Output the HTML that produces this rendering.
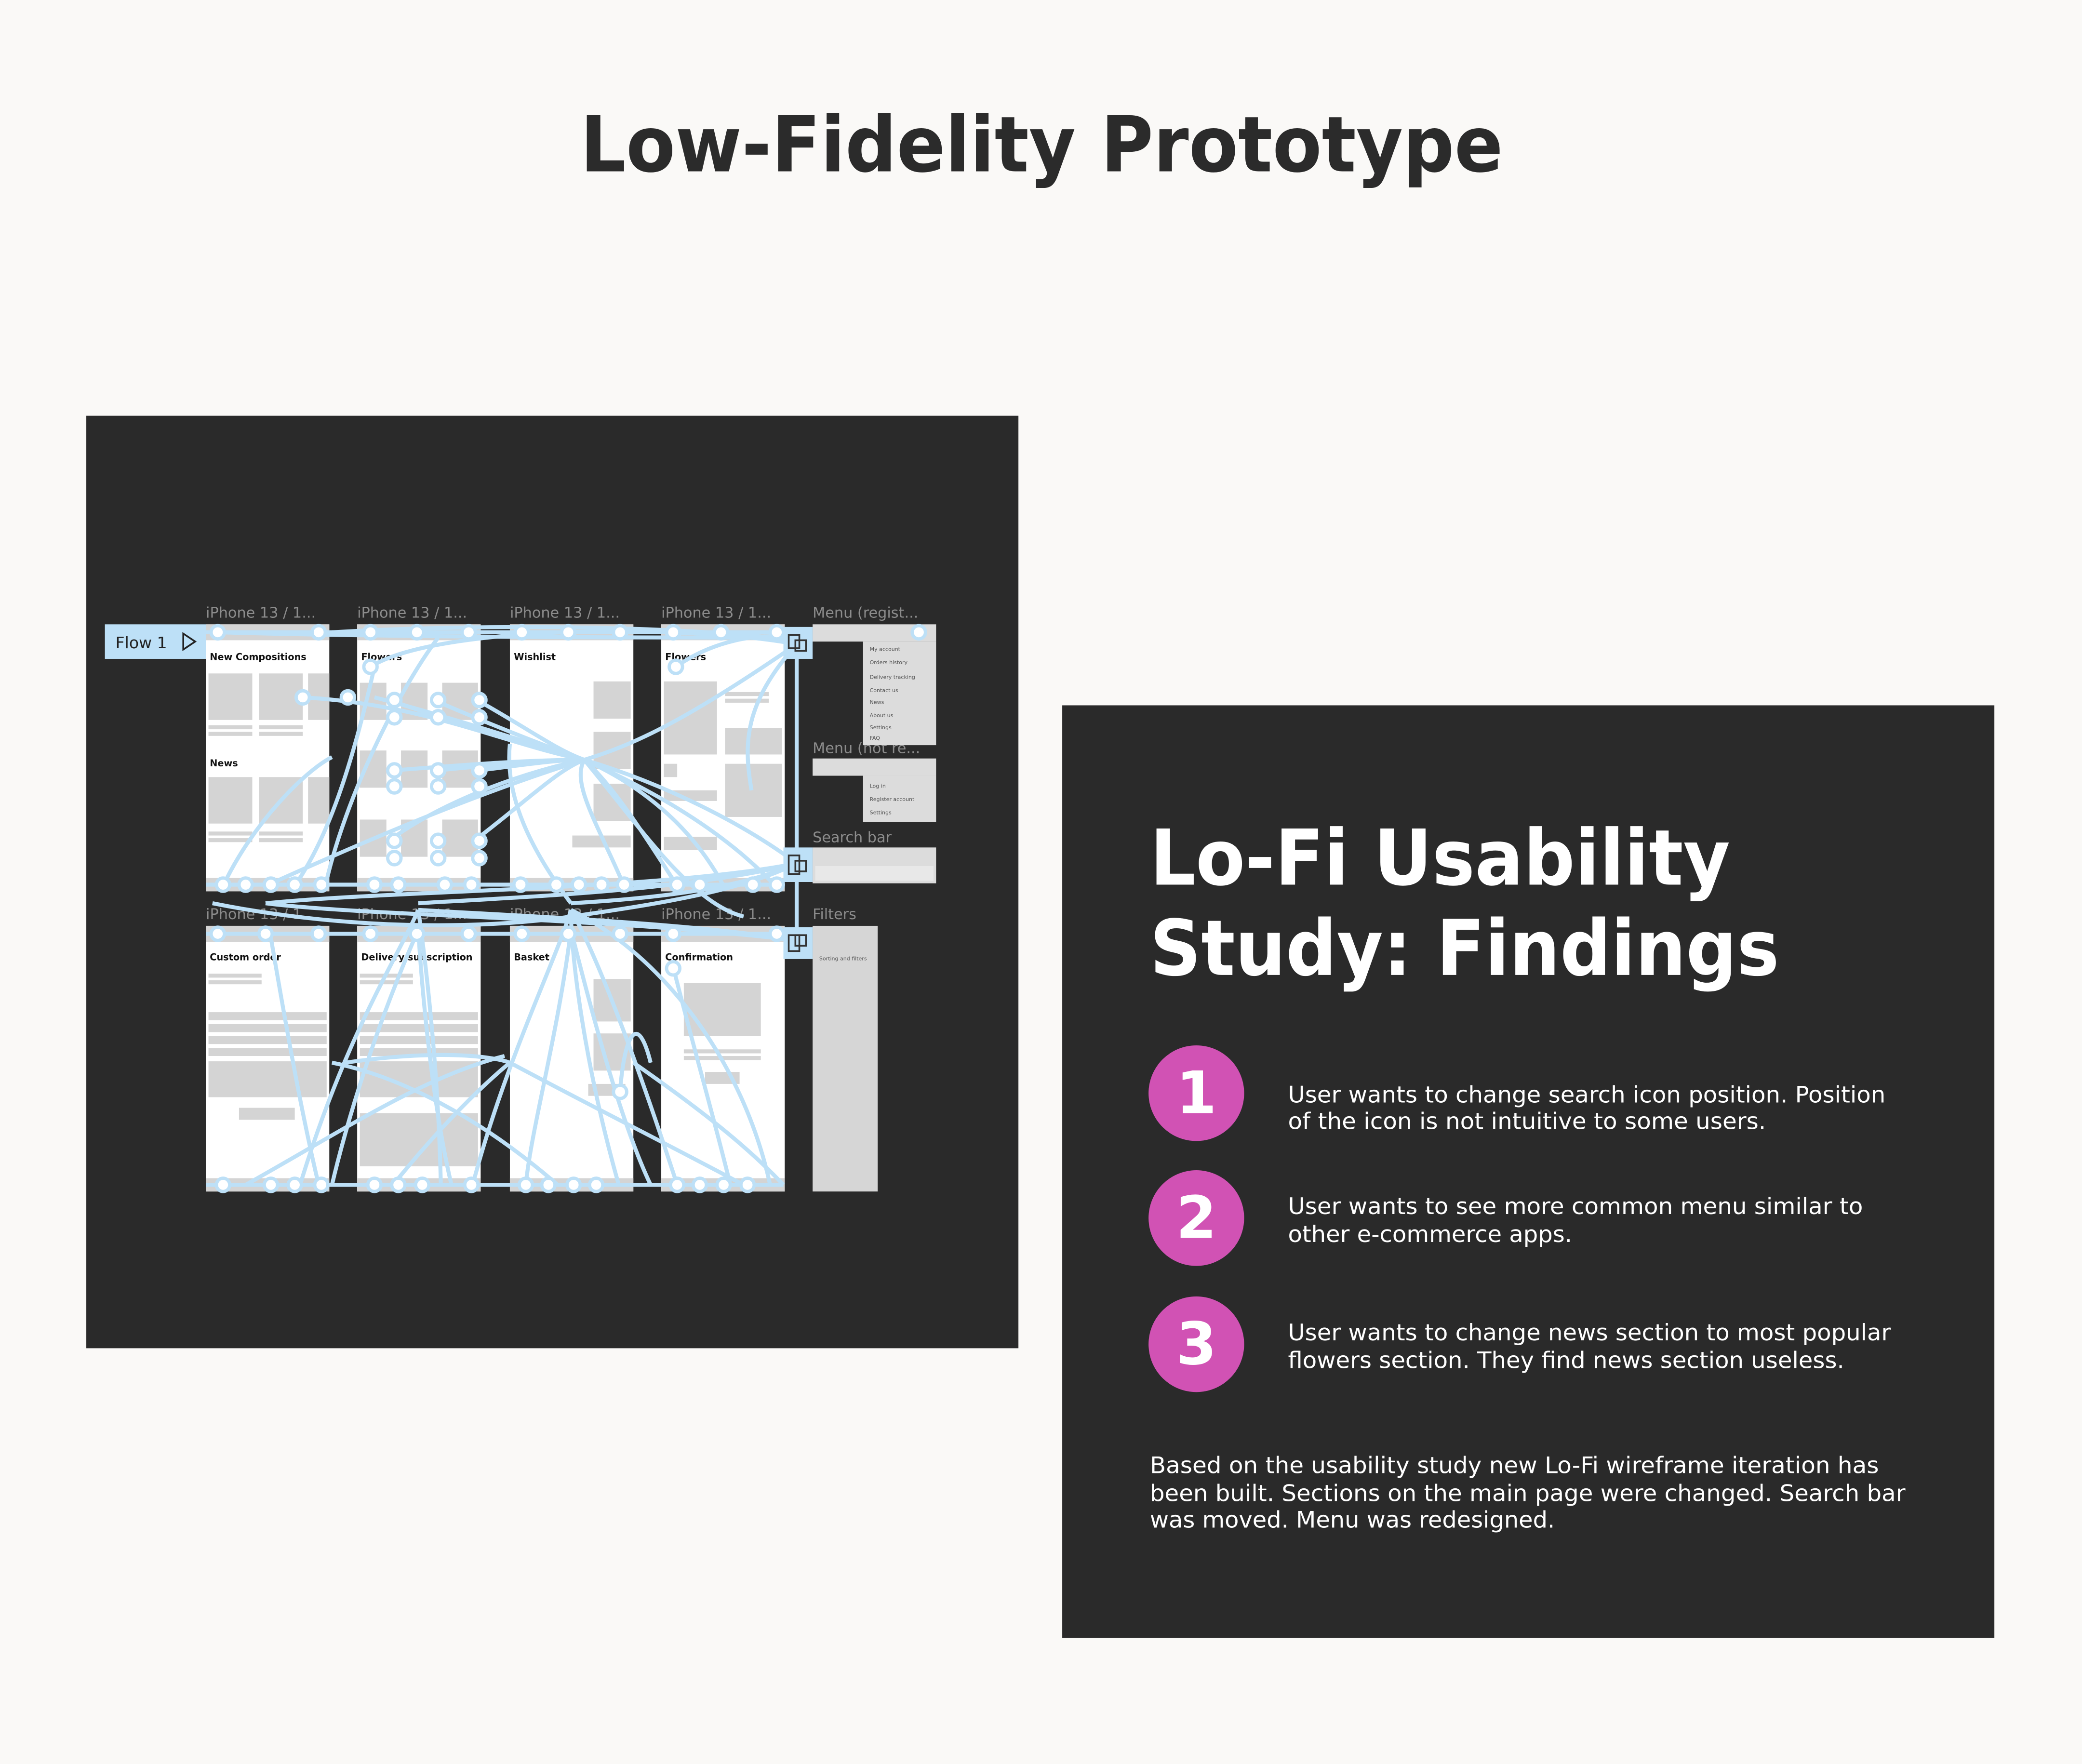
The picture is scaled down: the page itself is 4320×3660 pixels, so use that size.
<!DOCTYPE html>
<html><head><meta charset="utf-8"><style>html,body{margin:0;padding:0;background:#faf9f7}svg{display:block}</style></head>
<body>
<svg xmlns="http://www.w3.org/2000/svg" width="4320" height="3660" viewBox="0 0 1568 1328" preserveAspectRatio="none" font-family="'DejaVu Sans','Liberation Sans',sans-serif">
<rect width="1568" height="1328" fill="#faf9f7"/>
<text x="437" y="129" font-size="58" font-weight="bold" fill="#2b2b2b" textLength="695" lengthAdjust="spacingAndGlyphs">Low-Fidelity Prototype</text>

<rect x="65" y="313" width="702" height="702" fill="#2a2a2a"/>
<g font-size="11" fill="#8c8c8c">
<text x="155" y="465">iPhone 13 / 1...</text><text x="269" y="465">iPhone 13 / 1...</text><text x="384" y="465">iPhone 13 / 1...</text><text x="498" y="465">iPhone 13 / 1...</text>
<text x="612" y="465">Menu (regist...</text><text x="612" y="567">Menu (not re...</text><text x="612" y="634">Search bar</text><text x="612" y="692">Filters</text>
<text x="155" y="692">iPhone 13 / 1...</text><text x="269" y="692">iPhone 13 / 1...</text><text x="384" y="692">iPhone 13 / 1...</text><text x="498" y="692">iPhone 13 / 1...</text>
</g>
<g>
<g fill="#fff"><rect x="155" y="470" width="93" height="201"/><rect x="269" y="470" width="93" height="201"/><rect x="384" y="470" width="93" height="201"/><rect x="498" y="470" width="93" height="201"/>
<rect x="155" y="697" width="93" height="200"/><rect x="269" y="697" width="93" height="200"/><rect x="384" y="697" width="93" height="200"/><rect x="498" y="697" width="93" height="200"/></g>
<g fill="#d4d4d4"><rect x="155" y="470" width="93" height="12"/><rect x="269" y="470" width="93" height="12"/><rect x="384" y="470" width="93" height="12"/><rect x="498" y="470" width="93" height="12"/>
<rect x="155" y="661" width="93" height="10"/><rect x="269" y="661" width="93" height="10"/><rect x="384" y="661" width="93" height="10"/><rect x="498" y="661" width="93" height="10"/>
<rect x="155" y="697" width="93" height="12"/><rect x="269" y="697" width="93" height="12"/><rect x="384" y="697" width="93" height="12"/><rect x="498" y="697" width="93" height="12"/>
<rect x="155" y="887" width="93" height="10"/><rect x="269" y="887" width="93" height="10"/><rect x="384" y="887" width="93" height="10"/><rect x="498" y="887" width="93" height="10"/>
<rect x="157" y="507" width="33" height="35"/><rect x="195" y="507" width="33" height="35"/><rect x="232" y="507" width="16" height="35"/>
<rect x="157" y="546" width="33" height="3"/><rect x="195" y="546" width="33" height="3"/><rect x="157" y="551" width="33" height="3"/><rect x="195" y="551" width="33" height="3"/>
<rect x="157" y="585" width="33" height="35"/><rect x="195" y="585" width="33" height="35"/><rect x="232" y="585" width="16" height="35"/>
<rect x="157" y="626" width="33" height="3"/><rect x="195" y="626" width="33" height="3"/><rect x="157" y="631" width="33" height="3"/><rect x="195" y="631" width="33" height="3"/>
<rect x="271" y="514" width="20" height="28"/><rect x="302" y="514" width="20" height="28"/><rect x="333" y="514" width="27" height="28"/>
<rect x="271" y="565" width="20" height="28"/><rect x="302" y="565" width="20" height="28"/><rect x="333" y="565" width="27" height="28"/>
<rect x="271" y="617" width="20" height="28"/><rect x="302" y="617" width="20" height="28"/><rect x="333" y="617" width="27" height="28"/>
<rect x="447" y="513" width="28" height="28"/><rect x="447" y="551" width="28" height="28"/><rect x="447" y="590" width="28" height="28"/><rect x="431" y="629" width="44" height="9"/>
<rect x="500" y="513" width="40" height="55"/><rect x="546" y="521" width="33" height="3"/><rect x="546" y="526" width="33" height="3"/><rect x="546" y="548" width="43" height="20"/>
<rect x="500" y="575" width="10" height="10"/><rect x="546" y="575" width="43" height="40"/><rect x="500" y="595" width="40" height="8"/><rect x="500" y="630" width="40" height="10"/>
<rect x="157" y="733" width="40" height="3"/><rect x="157" y="738" width="40" height="3"/>
<rect x="157" y="762" width="89" height="6"/><rect x="157" y="771" width="89" height="6"/><rect x="157" y="780" width="89" height="6"/><rect x="157" y="789" width="89" height="6"/><rect x="157" y="799" width="89" height="27"/><rect x="180" y="834" width="42" height="9"/>
<rect x="271" y="733" width="40" height="3"/><rect x="271" y="738" width="40" height="3"/>
<rect x="271" y="762" width="89" height="6"/><rect x="271" y="771" width="89" height="6"/><rect x="271" y="780" width="89" height="6"/><rect x="271" y="789" width="89" height="6"/><rect x="271" y="799" width="89" height="27"/><rect x="271" y="838" width="89" height="40"/>
<rect x="447" y="737" width="28" height="32"/><rect x="447" y="778" width="28" height="28"/><rect x="443" y="816" width="28" height="9"/>
<rect x="515" y="740" width="58" height="40"/><rect x="515" y="790" width="58" height="3"/><rect x="515" y="795" width="58" height="3"/><rect x="531" y="807" width="26" height="9"/>
</g>
<g font-size="7" font-weight="bold" fill="#111"><text x="158" y="497">New Compositions</text><text x="158" y="577">News</text><text x="272" y="497">Flowers</text><text x="387" y="497">Wishlist</text><text x="501" y="497">Flowers</text>
<text x="158" y="723">Custom order</text><text x="272" y="723">Delivery subscription</text><text x="387" y="723">Basket</text><text x="501" y="723">Confirmation</text></g>
<rect x="612" y="470" width="93" height="13" fill="#dcdcdc"/><rect x="650" y="483" width="55" height="78" fill="#dcdcdc"/>
<rect x="612" y="571" width="93" height="13" fill="#dcdcdc"/><rect x="650" y="584" width="55" height="35" fill="#dcdcdc"/>
<rect x="612" y="638" width="93" height="27" fill="#dcdcdc"/><rect x="614" y="652" width="89" height="11" fill="#e8e8e8"/>
<rect x="612" y="697" width="49" height="200" fill="#d6d6d6"/>
<g font-size="4" fill="#555"><text x="655" y="490">My account</text><text x="655" y="500">Orders history</text><text x="655" y="511">Delivery tracking</text><text x="655" y="521">Contact us</text><text x="655" y="530">News</text><text x="655" y="540">About us</text><text x="655" y="549">Settings</text><text x="655" y="557">FAQ</text>
<text x="655" y="593">Log in</text><text x="655" y="603">Register account</text><text x="655" y="613">Settings</text><text x="617" y="723">Sorting and filters</text></g>
</g>
<g fill="none" stroke="#bde0f7" stroke-width="3">
<path d="M155 476 L600 476"/><path d="M155 703 L600 703"/><path d="M155 666 L590 666"/><path d="M155 892 L590 892"/>
<path d="M228 525 C320 530 380 560 440 572"/><path d="M282 525 C340 540 400 560 440 572"/><path d="M296 528 C360 550 410 565 440 572"/>
<path d="M329 528 C380 550 420 565 440 572"/><path d="M361 528 C400 550 420 565 440 572"/><path d="M296 580 C360 575 400 572 440 572"/>
<path d="M329 580 C380 575 420 572 440 572"/><path d="M361 580 C400 575 420 572 440 572"/><path d="M297 630 C340 600 400 580 440 572"/>
<path d="M361 630 C400 600 420 580 440 572"/><path d="M164 476 C300 480 500 480 600 480"/><path d="M250 476 C350 470 500 470 600 482"/>
<path d="M279 502 C330 470 520 470 600 485"/><path d="M509 502 C540 480 580 475 600 482"/><path d="M440 572 C480 560 520 540 600 485"/>
<path d="M440 572 C500 590 560 620 600 650"/><path d="M440 572 C480 620 520 680 560 690"/><path d="M200 667 C260 640 350 600 440 572"/>
<path d="M200 680 C300 670 500 670 600 650"/><path d="M315 680 C400 675 520 670 600 650"/><path d="M430 680 C500 676 560 668 600 650"/>
<path d="M200 680 C280 690 450 690 600 708"/><path d="M315 685 C400 690 520 695 600 708"/><path d="M600 485 L600 710"/>
<path d="M168 667 C190 620 230 580 250 570"/><path d="M222 667 C240 640 260 600 282 502"/><path d="M245 667 C260 600 300 520 330 480"/>
<path d="M203 700 C220 800 230 850 240 892"/><path d="M315 700 C320 780 330 850 340 892"/><path d="M430 700 C420 780 400 850 396 892"/>
<path d="M430 700 C450 780 470 850 490 892"/><path d="M315 700 C280 780 260 850 250 892"/><path d="M185 892 C260 850 320 810 380 795"/>
<path d="M296 892 C330 850 360 820 384 800"/><path d="M250 800 C300 810 360 840 420 892"/><path d="M260 800 C330 790 370 795 384 800"/>
<path d="M477 800 C520 830 560 860 590 892"/><path d="M384 800 C440 830 500 860 560 892"/><path d="M467 822 C470 780 480 760 490 800"/>
<path d="M507 728 C520 780 540 850 550 892"/><path d="M160 680 C260 700 360 700 430 690 C500 680 560 670 600 650"/>
<path d="M430 680 C400 640 380 600 384 560"/><path d="M470 667 C450 620 430 590 440 572"/><path d="M510 667 C480 620 460 590 440 572"/>
<path d="M545 667 C520 620 480 590 440 572"/><path d="M584 667 C540 620 480 590 440 572"/><path d="M566 595 C560 560 560 530 600 485"/>
<path d="M226 892 C260 780 300 720 315 685"/><path d="M332 892 C330 800 320 720 315 685"/><path d="M466 892 C440 800 430 720 430 685"/>
<path d="M356 892 C380 800 420 720 430 685"/><path d="M510 892 C480 800 450 720 430 685"/><path d="M580 892 C560 800 500 720 430 685"/>
</g>
<g fill="#fff" stroke="#bde0f7" stroke-width="2.5">
<circle cx="164" cy="476" r="5"/><circle cx="240" cy="476" r="5"/><circle cx="279" cy="476" r="5"/><circle cx="314" cy="476" r="5"/><circle cx="353" cy="476" r="5"/>
<circle cx="393" cy="476" r="5"/><circle cx="428" cy="476" r="5"/><circle cx="467" cy="476" r="5"/><circle cx="507" cy="476" r="5"/><circle cx="543" cy="476" r="5"/><circle cx="585" cy="476" r="5"/><circle cx="692" cy="476" r="5"/>
<circle cx="164" cy="703" r="5"/><circle cx="200" cy="703" r="5"/><circle cx="240" cy="703" r="5"/><circle cx="279" cy="703" r="5"/><circle cx="314" cy="703" r="5"/><circle cx="353" cy="703" r="5"/>
<circle cx="393" cy="703" r="5"/><circle cx="428" cy="703" r="5"/><circle cx="467" cy="703" r="5"/><circle cx="507" cy="703" r="5"/><circle cx="585" cy="703" r="5"/>
<circle cx="168" cy="666" r="5"/><circle cx="185" cy="666" r="5"/><circle cx="204" cy="666" r="5"/><circle cx="222" cy="666" r="5"/><circle cx="242" cy="666" r="5"/>
<circle cx="282" cy="666" r="5"/><circle cx="300" cy="666" r="5"/><circle cx="335" cy="666" r="5"/><circle cx="355" cy="666" r="5"/>
<circle cx="392" cy="666" r="5"/><circle cx="419" cy="666" r="5"/><circle cx="436" cy="666" r="5"/><circle cx="453" cy="666" r="5"/><circle cx="470" cy="666" r="5"/>
<circle cx="510" cy="666" r="5"/><circle cx="527" cy="666" r="5"/><circle cx="567" cy="666" r="5"/><circle cx="585" cy="666" r="5"/>
<circle cx="168" cy="892" r="5"/><circle cx="204" cy="892" r="5"/><circle cx="222" cy="892" r="5"/><circle cx="242" cy="892" r="5"/>
<circle cx="282" cy="892" r="5"/><circle cx="300" cy="892" r="5"/><circle cx="318" cy="892" r="5"/><circle cx="355" cy="892" r="5"/>
<circle cx="396" cy="892" r="5"/><circle cx="413" cy="892" r="5"/><circle cx="432" cy="892" r="5"/><circle cx="449" cy="892" r="5"/>
<circle cx="510" cy="892" r="5"/><circle cx="527" cy="892" r="5"/><circle cx="545" cy="892" r="5"/><circle cx="563" cy="892" r="5"/>
<circle cx="228" cy="525" r="5"/><circle cx="262" cy="525" r="5"/><circle cx="279" cy="502" r="5"/>
<circle cx="297" cy="527" r="5"/><circle cx="330" cy="527" r="5"/><circle cx="361" cy="527" r="5"/><circle cx="297" cy="540" r="5"/><circle cx="330" cy="540" r="5"/><circle cx="361" cy="540" r="5"/>
<circle cx="297" cy="580" r="5"/><circle cx="330" cy="580" r="5"/><circle cx="361" cy="580" r="5"/><circle cx="297" cy="592" r="5"/><circle cx="330" cy="592" r="5"/><circle cx="361" cy="592" r="5"/>
<circle cx="297" cy="633" r="5"/><circle cx="330" cy="633" r="5"/><circle cx="361" cy="633" r="5"/><circle cx="297" cy="646" r="5"/><circle cx="330" cy="646" r="5"/><circle cx="361" cy="646" r="5"/>
<circle cx="509" cy="502" r="5"/><circle cx="507" cy="729" r="5"/><circle cx="467" cy="822" r="5"/>
</g>
<g fill="#bde0f7"><rect x="590" y="472" width="22" height="24"/><rect x="590" y="638" width="22" height="26"/><rect x="590" y="698" width="22" height="24"/></g>
<g fill="none" stroke="#333" stroke-width="1.3"><rect x="594" y="478" width="8" height="10"/><rect x="599" y="482" width="8" height="8"/><rect x="594" y="644" width="8" height="14"/><rect x="599" y="648" width="8" height="8"/><rect x="594" y="704" width="8" height="12"/><rect x="599" y="704" width="8" height="8"/></g>
<rect x="79" y="470" width="76" height="26" fill="#bde0f7"/>
<text x="87" y="488" font-size="12" fill="#222">Flow 1</text>
<path d="M138 477 L147 483 L138 489 Z" fill="none" stroke="#222" stroke-width="1.3"/>

<rect x="800" y="531" width="702" height="702" fill="#2a2a2a"/>
<g fill="#fff" font-weight="bold" font-size="58">
<text x="866" y="666" textLength="437" lengthAdjust="spacingAndGlyphs">Lo-Fi Usability</text>
<text x="866" y="734" textLength="474" lengthAdjust="spacingAndGlyphs">Study: Findings</text>
</g>
<g fill="#d152b4"><circle cx="901" cy="823" r="36"/><circle cx="901" cy="917" r="36"/><circle cx="901" cy="1012" r="36"/></g>
<g fill="#fff" font-weight="bold" font-size="44" text-anchor="middle"><text x="901" y="838">1</text><text x="901" y="932">2</text><text x="901" y="1027">3</text></g>
<g fill="#fff" font-size="17">
<text x="970" y="830" textLength="450" lengthAdjust="spacingAndGlyphs">User wants to change search icon position. Position</text>
<text x="970" y="850" textLength="360" lengthAdjust="spacingAndGlyphs">of the icon is not intuitive to some users.</text>
<text x="970" y="914" textLength="433" lengthAdjust="spacingAndGlyphs">User wants to see more common menu similar to</text>
<text x="970" y="935" textLength="214" lengthAdjust="spacingAndGlyphs">other e-commerce apps.</text>
<text x="970" y="1009" textLength="454" lengthAdjust="spacingAndGlyphs">User wants to change news section to most popular</text>
<text x="970" y="1030" textLength="419" lengthAdjust="spacingAndGlyphs">flowers section. They find news section useless.</text>
<text x="866" y="1109" textLength="549" lengthAdjust="spacingAndGlyphs">Based on the usability study new Lo-Fi wireframe iteration has</text>
<text x="866" y="1130" textLength="569" lengthAdjust="spacingAndGlyphs">been built. Sections on the main page were changed. Search bar</text>
<text x="866" y="1150" textLength="305" lengthAdjust="spacingAndGlyphs">was moved. Menu was redesigned.</text>
</g>
</svg>
</body></html>
